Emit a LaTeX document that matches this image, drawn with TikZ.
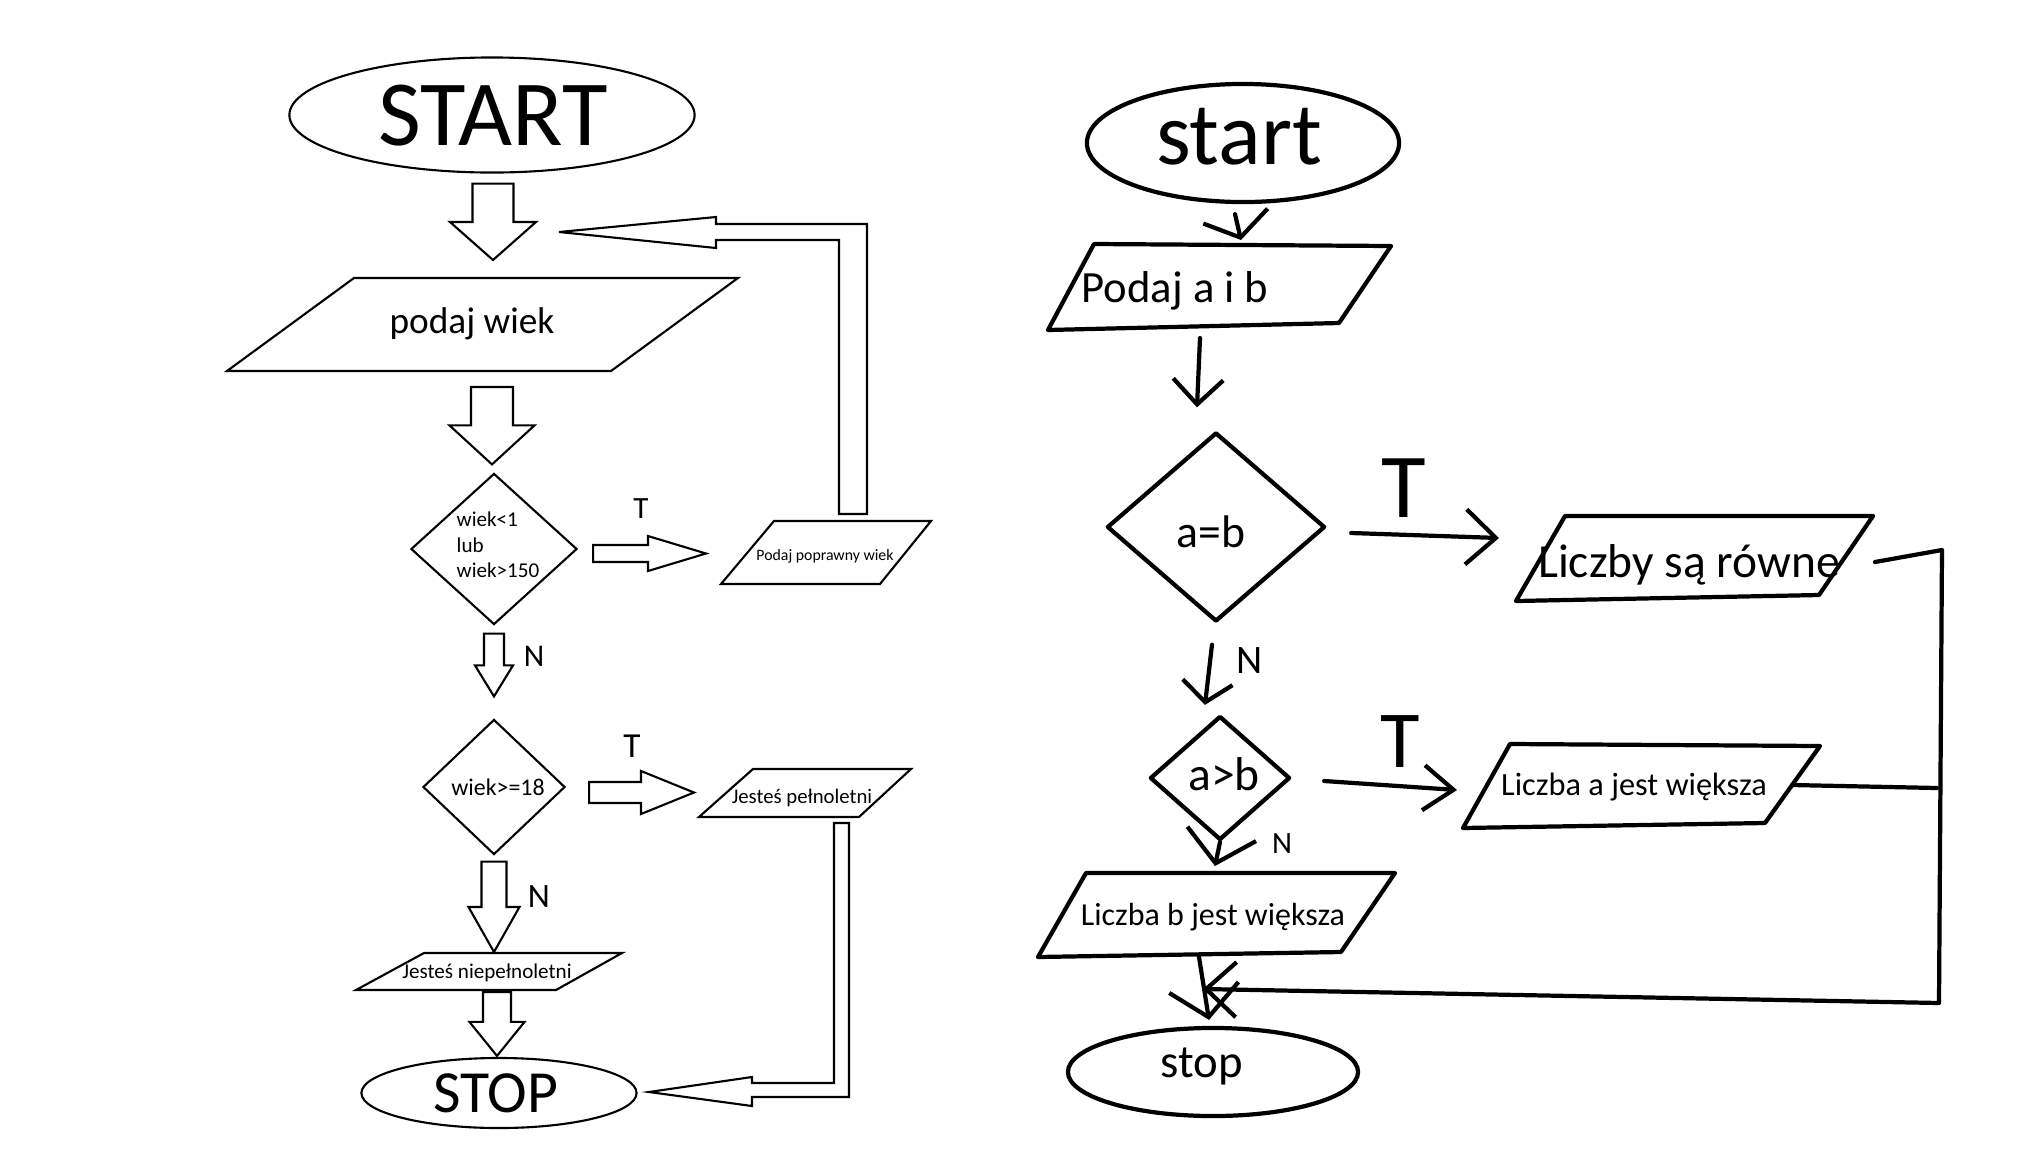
\documentclass[tikz,border=0pt]{standalone}
\usepackage{fontspec}
\setmainfont{Carlito}
\usetikzlibrary{shapes.geometric,arrows.meta,calc}

% strzalka blokowa w dol: poczatek, grot, pol trzonu, pol grotu, dlugosc grotu
\newcommand{\blokdol}[5]{%
  \draw[blok] let \p1=(#1), \p2=(#2) in
    (\x1-#3*0.01cm,\y1) -- (\x1-#3*0.01cm,\y2+#5*0.01cm) -- (\x1-#4*0.01cm,\y2+#5*0.01cm)
    -- (\x1,\y2) -- (\x1+#4*0.01cm,\y2+#5*0.01cm) -- (\x1+#3*0.01cm,\y2+#5*0.01cm)
    -- (\x1+#3*0.01cm,\y1) -- cycle;}
% strzalka blokowa w prawo
\newcommand{\blokprawo}[5]{%
  \draw[blok] let \p1=(#1), \p2=(#2) in
    (\x1,\y1+#3*0.01cm) -- (\x2-#5*0.01cm,\y1+#3*0.01cm) -- (\x2-#5*0.01cm,\y1+#4*0.01cm)
    -- (\x2,\y1) -- (\x2-#5*0.01cm,\y1-#4*0.01cm) -- (\x2-#5*0.01cm,\y1-#3*0.01cm)
    -- (\x1,\y1-#3*0.01cm) -- cycle;}

\begin{document}
\begin{tikzpicture}[x=0.01cm, y=-0.01cm,
  cienka/.style={line width=0.6pt},
  gruba/.style={line width=1.2pt, line cap=round, line join=round},
  blok/.style={cienka, line join=miter},
  term/.style={ellipse, draw, inner sep=0pt},
  dec/.style={diamond, draw, inner sep=0pt},
  txt/.style={inner sep=0pt, anchor=base},
  rozm/.style={font=\fontsize{#1}{#1}\selectfont},
  strz/.style 2 args={gruba, -{Straight Barb[length=#1, width=#2]}}]

\fill[white] (0,0) rectangle (2032,1160);
\useasboundingbox (0,0) rectangle (2032,1160);

% Lewy schemat
\node[term, cienka, minimum width=4.05cm, minimum height=1.15cm] (start) at (492,115) {};
\node[txt, rozm=26.5] (startT) at (493,145) {START};
\draw[cienka] (354,278) -- (738,278) -- (611,371) -- (227,371) -- cycle;
\node[txt, rozm=10.6] (wiek) at (472,333) {podaj wiek};
\node[dec, cienka, minimum width=1.66cm, minimum height=1.51cm] (w1) at (494,549) {};
\node[inner sep=0pt, align=left, font=\fontsize{6}{7.25}\selectfont] (w1T) at (498,545) {wiek<1\\lub\\wiek>150};
\node[txt, rozm=8.8] (T1) at (641,518) {T};
\draw[cienka] (774,521) -- (931,521) -- (880,584) -- (721,584) -- cycle;
\node[txt, rozm=4.5] (popr) at (825,560) {Podaj poprawny wiek};
\node[txt, rozm=9] (N1) at (534,666) {N};
\node[dec, cienka, minimum width=1.42cm, minimum height=1.35cm] (w2) at (494,787) {};
\node[txt, rozm=6.8] (w2T) at (498,795) {wiek>=18};
\node[txt, rozm=10] (T2) at (632,757) {T};
\draw[cienka] (753,769) -- (911,769) -- (859,817) -- (699,817) -- cycle;
\node[txt, rozm=5.9] (pelno) at (802,803) {Jesteś pełnoletni};
\node[txt, rozm=9.7] (N2) at (539,907) {N};
\draw[cienka] (424,953) -- (622,953) -- (556,990) -- (356,990) -- cycle;
\node[txt, rozm=6] (niepelno) at (487,978) {Jesteś niepełnoletni};
\node[term, cienka, minimum width=2.75cm, minimum height=0.70cm] (stop) at (499,1093) {};
\node[txt, rozm=17] (stopT) at (496,1112) {STOP};

% Strzalki blokowe
\blokdol{$(start.south)+(1,10)$}{493,260}{20.5}{43}{38}
\blokdol{492,387}{$(w1.north)+(0,-8)$}{21}{42.5}{39}
\blokdol{$(w1.south)+(0,8)$}{$(w2.north)+(0,-22)$}{10}{19}{31}
\blokdol{$(w2.south)+(0,6)$}{494,952}{12.5}{25.5}{45}
\blokdol{497,992}{$(stop.north)+(0,-1)$}{14}{27.5}{34}
\blokprawo{$(w1.east)+(15,4.5)$}{706,553.5}{8.5}{17.5}{58}
\blokprawo{$(w2.east)+(23,5.5)$}{694,792.5}{10.5}{21.5}{53}
% powroty
\draw[blok] (839,514) -- (839,240) -- (716,240) -- (716,248) -- (559,232)
  -- (716,217) -- (716,224) -- (867,224) -- (867,514) -- cycle;
\draw[blok] (834,823) -- (834,1083) -- (752,1083) -- (752,1077) -- (649,1092)
  -- (752,1106) -- (752,1097) -- (849,1097) -- (849,823) -- cycle;

% Prawy schemat
\node[term, gruba, minimum width=3.12cm, minimum height=1.18cm] (start2) at (1243,143) {};
\node[txt, rozm=25.3] (start2T) at (1239,164) {start};
\draw[gruba] (1094,244) -- (1391,246) -- (1339,323) -- (1048,330) -- cycle;
\node[txt, anchor=base west, rozm=12.7] (ab) at (1081,302) {Podaj a i b};
\node[dec, gruba, minimum width=2.18cm, minimum height=1.89cm] (rowne) at (1216,527) {};
\node[txt, rozm=13] (rowneT) at (1211,547) {a=b};
\node[txt, rozm=26] (T3) at (1404,517) {T};
\draw[gruba] (1565,516) -- (1873,516) -- (1819,595) -- (1516,601) -- cycle;
\node[txt, rozm=13.5] (rowneP) at (1689,577) {Liczby są równe};
\node[txt, rozm=11.5] (N3) at (1250,673) {N};
\node[dec, gruba, minimum width=1.40cm, minimum height=1.24cm] (wieksze) at (1220,778) {};
\node[txt, rozm=13.5] (wiekszeT) at (1224,790) {a>b};
\node[txt, rozm=23] (T4) at (1400,767) {T};
\draw[gruba] (1510,744) -- (1820,746) -- (1765,823) -- (1463,828) -- cycle;
\node[txt, rozm=9.2] (wiekszaA) at (1634,795) {Liczba a jest większa};
\node[txt, rozm=8.8] (N4) at (1282,853) {N};
\draw[gruba] (1086,873) -- (1395,873) -- (1341,952) -- (1038,957) -- cycle;
\node[txt, rozm=9.1] (wiekszaB) at (1213,925) {Liczba b jest większa};
\node[term, gruba, minimum width=2.90cm, minimum height=0.88cm] (stop2) at (1213,1072) {};
\node[txt, rozm=13.3] (stop2T) at (1202,1077) {stop};

% Strzalki
\draw[strz={0.22cm}{0.66cm}] ($(start2.south)+(-8,10)$) -- (1241,240);
\draw[strz={0.25cm}{0.5cm}] (1200,338) -- ($(rowne.north)+(-19,-23)$);
\draw[strz={0.3cm}{0.55cm}] ($(rowne.east)+(24,6)$) -- (1499,538);
\draw[strz={0.2cm}{0.5cm}] ($(rowne.south)+(-4,21)$) -- ($(wieksze.north)+(-15,-9)$);
\draw[strz={0.3cm}{0.45cm}] ($(wieksze.east)+(32,3)$) -- (1457,790);
\draw[strz={0.3cm}{0.7cm}] (wieksze.south) -- (1215,866);
\draw[strz={0.3cm}{0.7cm}] (1199,957) -- ($(stop2.north)+(-4,-6)$);
\draw[strz={0.3cm}{0.55cm}] (1875,562) -- (1942,550) -- (1939,1003) -- (1203,989);
\draw[gruba] (1792,785) -- (1937,788);
\end{tikzpicture}
\end{document}
